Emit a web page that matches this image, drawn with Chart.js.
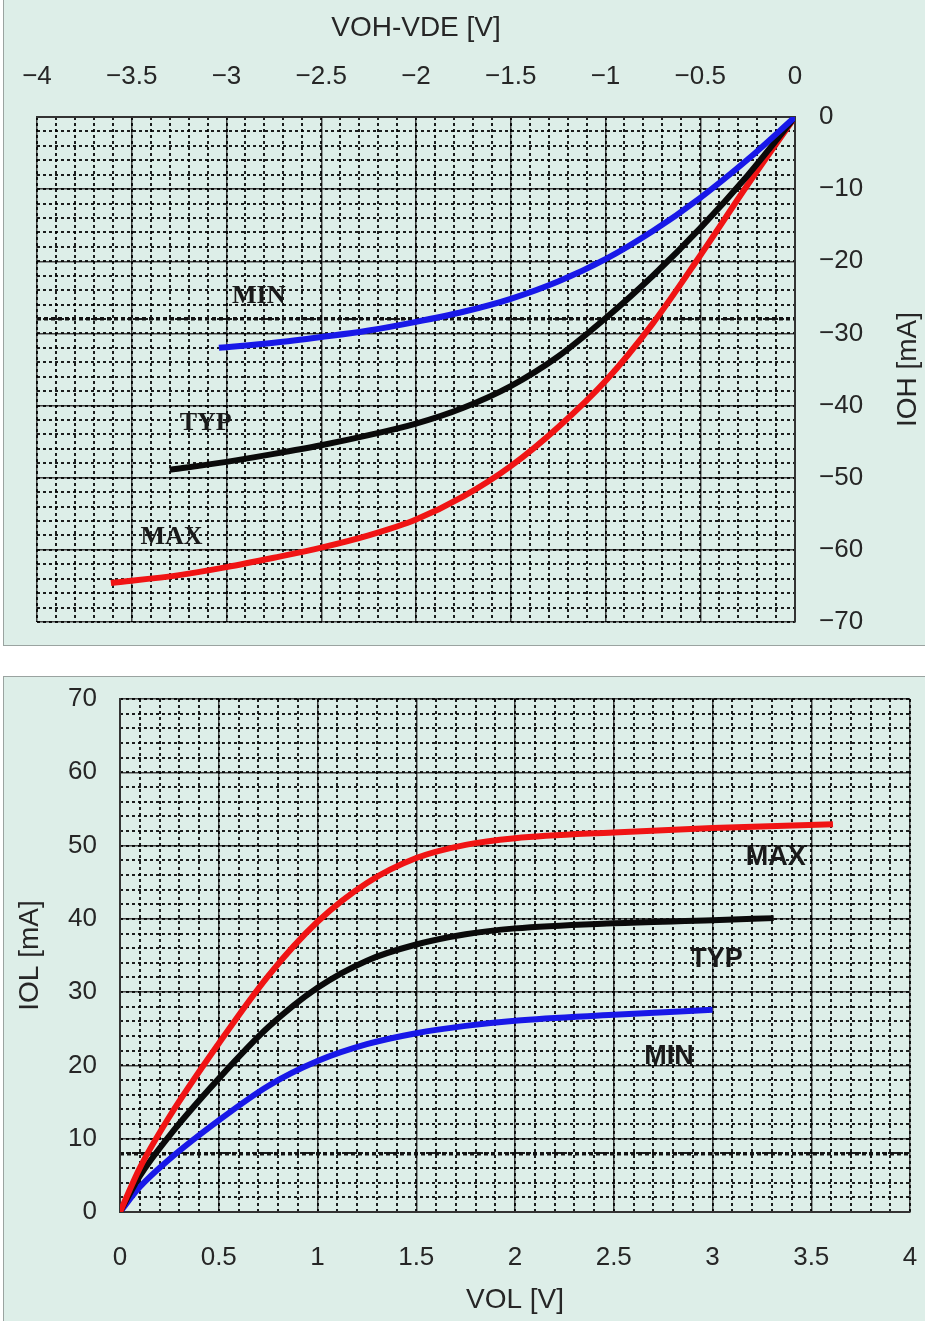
<!DOCTYPE html>
<html>
<head>
<meta charset="utf-8">
<title>IOH / IOL characteristics</title>
<script src="https://cdn.jsdelivr.net/npm/chart.js@4.4.1/dist/chart.umd.min.js"></script>
<style>
  body { margin: 0; background: #fff; width: 925px; height: 1321px; position: relative; overflow: hidden; }
  .panel { position: absolute; background: #ddeee8; border: 1px solid #9aa3a0; }
  #topPanel { left: 3px; top: -1px; width: 940px; height: 645px; }
  #bottomPanel { left: 3px; top: 676px; width: 940px; height: 660px; }
  canvas { position: absolute; left: 0; }
</style>
</head>
<body>
<div class="panel" id="topPanel"></div>
<div class="panel" id="bottomPanel"></div>
<canvas id="ohChart" width="925" height="645" style="top:0"></canvas>
<canvas id="olChart" width="925" height="645" style="top:676px"></canvas>
<script>
// ---- top chart: VOH-VDE [V] vs IOH [mA] ----
const ohXTicks = [-4, -3.5, -3, -2.5, -2, -1.5, -1, -0.5, 0];
const ohYTicks = [0, -10, -20, -30, -40, -50, -60, -70];
const ohAccentY = [-28];   // the darker dotted row in the grid

const ohMinV = [-3.04, -2.75, -2.5, -2.25, -2.0, -1.75, -1.5, -1.25, -1.0, -0.75, -0.5, -0.25, 0];
const ohMinI = [-32.0, -31.3, -30.5, -29.6, -28.4, -27.0, -25.2, -22.8, -19.7, -15.8, -11.2, -5.9, 0];

const ohTypV = [-3.30, -3.0, -2.75, -2.5, -2.25, -2.0, -1.75, -1.5, -1.25, -1.0, -0.75, -0.5, -0.25, 0];
const ohTypI = [-48.9, -47.8, -46.7, -45.5, -44.1, -42.5, -40.3, -37.3, -33.2, -27.9, -22.0, -15.4, -8.1, 0];

const ohMaxV = [-3.61, -3.25, -3.0, -2.75, -2.5, -2.25, -2.0, -1.75, -1.5, -1.25, -1.0, -0.75, -0.5, -0.25, 0];
const ohMaxI = [-64.6, -63.5, -62.4, -61.1, -59.7, -58.0, -55.8, -52.6, -48.4, -43.0, -36.6, -28.6, -19.2, -9.4, 0];

const ohLabelText = ['MIN', 'TYP', 'MAX'];
const ohLabelX = [-2.83, -3.11, -3.29];
const ohLabelY = [-24.9, -42.4, -58.2];

// ---- bottom chart: VOL [V] vs IOL [mA] ----
const olXTicks = [0, 0.5, 1, 1.5, 2, 2.5, 3, 3.5, 4];
const olYTicks = [0, 10, 20, 30, 40, 50, 60, 70];
const olAccentY = [8];

const olMaxV = [0, 0.1, 0.25, 0.5, 0.75, 1.0, 1.25, 1.5, 1.75, 2.0, 2.5, 3.0, 3.61];
const olMaxI = [0, 6.0, 13.0, 23.0, 32.2, 39.6, 44.9, 48.3, 50.1, 51.0, 51.8, 52.4, 52.9];

const olTypV = [0, 0.1, 0.25, 0.5, 0.75, 1.0, 1.25, 1.5, 1.75, 2.0, 2.5, 3.0, 3.31];
const olTypI = [0, 4.9, 10.4, 18.2, 25.2, 30.6, 34.3, 36.5, 37.9, 38.7, 39.4, 39.8, 40.1];

const olMinV = [0, 0.1, 0.25, 0.5, 0.75, 1.0, 1.25, 1.5, 1.75, 2.0, 2.5, 3.0];
const olMinI = [0, 3.4, 7.2, 12.5, 17.2, 20.6, 22.9, 24.4, 25.4, 26.1, 26.9, 27.6];

const olLabelText = ['MAX', 'TYP', 'MIN'];
const olLabelX = [3.32, 3.02, 2.78];
const olLabelY = [48.3, 34.4, 21.2];

const RED = '#f01414';
const BLUE = '#1818e8';
const BLACK = '#0a0a0a';
const SANS = "'Liberation Sans', Arial, sans-serif";
const TEXT = '#262626';

function pts(xs, ys) {
  return xs.map((x, i) => ({ x: x, y: ys[i] }));
}

function fmt(v) {
  return String(v).replace('-', '\u2212');
}

function curve(xs, ys, color) {
  return {
    data: pts(xs, ys),
    borderColor: color,
    backgroundColor: color,
    borderWidth: 6,
    pointRadius: 0,
    showLine: true,
    fill: false,
    cubicInterpolationMode: 'monotone',
    xAxisID: 'x',
    yAxisID: 'y'
  };
}

// fixed axis size, and no extra label overflow padding: layout.padding does that job
function fixSize(position, size) {
  return s => {
    if (position === 'top' || position === 'bottom') s.height = size; else s.width = size;
    s.paddingTop = 0;
    s.paddingBottom = 0;
    s.paddingLeft = 0;
    s.paddingRight = 0;
  };
}

function majorAxis(position, min, max, tickList, size, pad) {
  return {
    type: 'linear',
    position: position,
    min: min,
    max: max,
    afterBuildTicks: s => { s.ticks = tickList.map(v => ({ value: v })); },
    afterFit: fixSize(position, size),
    grid: { color: '#444', lineWidth: 1.5, drawTicks: false },
    border: { display: true, color: '#333', width: 2 },
    ticks: {
      padding: pad,
      autoSkip: false,
      maxRotation: 0,
      color: TEXT,
      font: { family: SANS, size: 26 },
      callback: v => fmt(v)
    }
  };
}

function minorAxis(position, min, max, step) {
  return {
    type: 'linear',
    position: position,
    min: min,
    max: max,
    afterFit: fixSize(position, 0),
    ticks: { display: false, stepSize: step },
    grid: { color: 'rgba(0,0,0,0.88)', lineWidth: 2, drawTicks: false },
    border: { display: false, dash: [3, 3] }
  };
}

function accentAxis(position, min, max, tickList) {
  return {
    type: 'linear',
    position: position,
    min: min,
    max: max,
    afterBuildTicks: s => { s.ticks = tickList.map(v => ({ value: v })); },
    afterFit: fixSize(position, 0),
    ticks: { display: false },
    grid: { color: '#111', lineWidth: 3.5, drawTicks: false },
    border: { display: false, dash: [4, 3] }
  };
}

// text labels next to the curves, placed through the scales
const curveLabels = {
  id: 'curveLabels',
  afterDatasetsDraw(chart, args, opts) {
    const { ctx, scales } = chart;
    ctx.save();
    ctx.font = opts.font;
    ctx.fillStyle = opts.color;
    ctx.textAlign = 'center';
    ctx.textBaseline = 'middle';
    opts.text.forEach((t, i) => {
      ctx.fillText(t, scales.x.getPixelForValue(opts.xs[i]), scales.y.getPixelForValue(opts.ys[i]));
    });
    ctx.restore();
  }
};

// right-hand axis title, reading bottom to top
const sideTitle = {
  id: 'sideTitle',
  afterDraw(chart, args, opts) {
    if (!opts.text) return;
    const { ctx, chartArea } = chart;
    const s = chart.scales.y;
    ctx.save();
    ctx.translate(s.right - opts.offset, (chartArea.top + chartArea.bottom) / 2);
    ctx.rotate(-Math.PI / 2);
    ctx.font = '28px ' + SANS;
    ctx.fillStyle = TEXT;
    ctx.textAlign = 'center';
    ctx.textBaseline = 'middle';
    ctx.fillText(opts.text, 0, 0);
    ctx.restore();
  }
};

const ohX = majorAxis('top', -4, 0, ohXTicks, 117, 25);
ohX.title = { display: true, text: 'VOH-VDE [V]', color: TEXT, font: { family: SANS, size: 28 }, padding: { top: 11, bottom: 0 } };
const ohY = majorAxis('right', -70, 0, ohYTicks, 130, 24);

new Chart(document.getElementById('ohChart'), {
  type: 'scatter',
  data: {
    datasets: [
      curve(ohMinV, ohMinI, BLUE),
      curve(ohTypV, ohTypI, BLACK),
      curve(ohMaxV, ohMaxI, RED)
    ]
  },
  options: {
    responsive: false,
    maintainAspectRatio: false,
    animation: false,
    layout: { padding: { left: 37, right: 0, top: 0, bottom: 23 } },
    scales: {
      x: ohX,
      y: ohY,
      xMinor: minorAxis('top', -4, 0, 0.1),
      yMinor: minorAxis('right', -70, 0, 2),
      yAccent: accentAxis('right', -70, 0, ohAccentY)
    },
    plugins: {
      legend: { display: false },
      tooltip: { enabled: false },
      curveLabels: { text: ohLabelText, xs: ohLabelX, ys: ohLabelY, font: "bold 26px 'Liberation Serif', serif", color: '#1a1a1a' },
      sideTitle: { text: 'IOH [mA]', offset: 17 }
    }
  },
  plugins: [curveLabels, sideTitle]
});

const olX = majorAxis('bottom', 0, 4, olXTicks, 109, 30);
olX.title = { display: true, text: 'VOL [V]', color: TEXT, font: { family: SANS, size: 28 }, padding: { top: 0, bottom: 4 } };
const olY = majorAxis('left', 0, 70, olYTicks, 120, 23);
olY.title = { display: true, text: 'IOL [mA]', color: TEXT, font: { family: SANS, size: 28 }, padding: { top: 13, bottom: 0 } };

new Chart(document.getElementById('olChart'), {
  type: 'scatter',
  data: {
    datasets: [
      curve(olMaxV, olMaxI, RED),
      curve(olTypV, olTypI, BLACK),
      curve(olMinV, olMinI, BLUE)
    ]
  },
  options: {
    responsive: false,
    maintainAspectRatio: false,
    animation: false,
    layout: { padding: { left: 0, right: 15, top: 23, bottom: 0 } },
    scales: {
      x: olX,
      y: olY,
      xMinor: minorAxis('bottom', 0, 4, 0.1),
      yMinor: minorAxis('left', 0, 70, 2),
      yAccent: accentAxis('left', 0, 70, olAccentY)
    },
    plugins: {
      legend: { display: false },
      tooltip: { enabled: false },
      curveLabels: { text: olLabelText, xs: olLabelX, ys: olLabelY, font: 'bold 27px ' + SANS, color: '#1a1a1a' },
      sideTitle: { text: '' }
    }
  },
  plugins: [curveLabels, sideTitle]
});
</script>
</body>
</html>
